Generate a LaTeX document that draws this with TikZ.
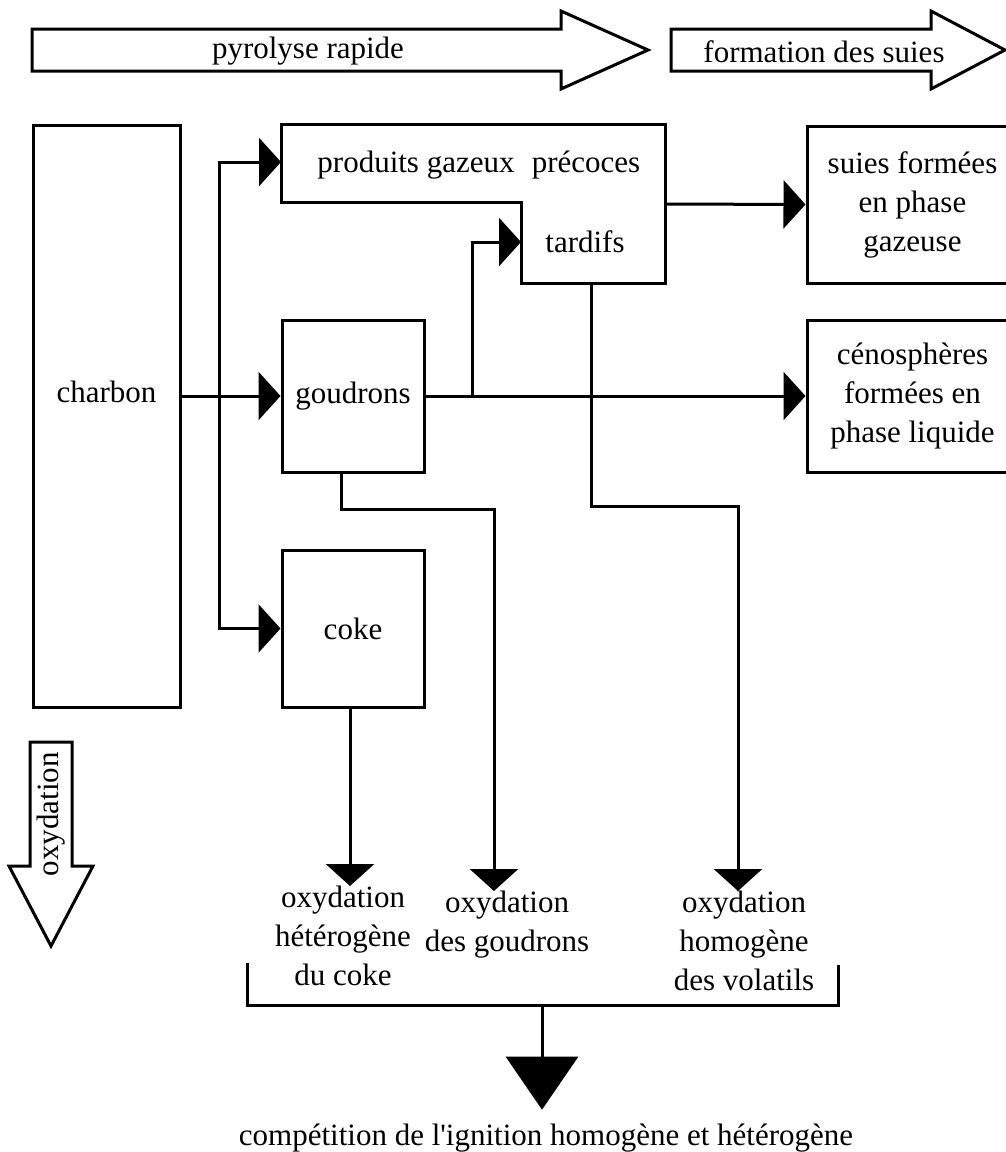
\documentclass[tikz,border=0pt]{standalone}
\usepackage{fontspec}
\setmainfont{Liberation Serif}
\usepackage{tikz}
\usetikzlibrary{arrows.meta}

\begin{document}
\begin{tikzpicture}[
            x=1pt, y=-1pt, % one unit per pixel, y pointing down
            every node/.style={font=\fontsize{31}{39}\selectfont, inner sep=0pt}, % Times-like text
            box/.style={draw, line width=3pt, inner sep=0pt}, % Plain rectangles
            lbl/.style={align=center, anchor=north}, % Labels under the arrows
            flow/.style={line width=3pt, -{Triangle[length=22pt, width=48pt]}}, % Black filled heads
            bigflow/.style={line width=3pt, -{Triangle[length=53pt, width=72pt]}}, % Final head
            hollow/.style={draw, line width=3pt, line join=miter} % Outline arrows
            ]
        \useasboundingbox (0,0) rectangle (1006,1152);

        % Outline arrows: phases of the process
        \draw[hollow] (32,29) -- (561,29) -- (561,11) -- (648,50) -- (561,89) -- (561,71) -- (32,71) -- cycle;
        \node (pyro) at (308,51) {pyrolyse rapide};
        \draw[hollow] (671,29) -- (931,29) -- (931,11) -- (1005,50) -- (931,89) -- (931,71) -- (671,71) -- cycle;
        \node (suiesform) at (824,52) {formation des suies};
        \draw[hollow] (30,742) -- (72,742) -- (72,866) -- (93,866) -- (51,946) -- (9,866) -- (30,866) -- cycle;
        \node[rotate=90] (oxy) at (51,814) {oxydation};

        % Boxes
        \node[box, minimum width=147pt, minimum height=582pt, label={[yshift=24pt]center:charbon}] (charbon) at (106.5,416) {};
        \node[box, minimum width=142pt, minimum height=152pt] (goudrons) at (353,396) {goudrons};
        \node[box, minimum width=142pt, minimum height=157pt] (coke) at (353,628.5) {coke};
        \node[box, minimum width=211pt, minimum height=157pt, align=center] (suies) at (912.5,204.5) {suies formées\\en phase\\gazeuse};
        \node[box, minimum width=211pt, minimum height=152pt, align=center] (ceno) at (912.5,396) {cénosphères\\formées en\\phase liquide};

        % Gaseous products: stepped box
        \draw[line width=3pt] (281,124) -- (665,124) -- (665,283) -- (521,283) -- (521,202) -- (281,202) -- cycle;
        \node (gaz) at (416,165) {produits gazeux};
        \node (precoces) at (586,165) {précoces};
        \node (tardifs) at (585,242) {tardifs};
        \coordinate (gazW) at (281,162);
        \coordinate (gazE) at (665,204);
        \coordinate (tardW) at (521,242);
        \coordinate (tardS) at (591,283);

        % Pyrolysis links
        \coordinate (fork) at (219,396);
        \coordinate (fork2) at (472,396);
        \draw[flow] (charbon.east |- goudrons.west) -- (goudrons.west);
        \draw[flow] (fork) |- (gazW);
        \draw[flow] (fork) |- (coke.west);
        \draw[flow] (goudrons.east) -- (ceno.west);
        \draw[flow] (fork2) |- (tardW);
        \draw[flow] (gazE) -- (suies.west);

        % Oxidation
        \node[lbl] (oxcoke) at (343,886) {oxydation\\hétérogène\\du coke};
        \node[lbl] (oxgoud) at (507,891) {oxydation\\des goudrons};
        \node[lbl] (oxvol) at (744,891) {oxydation\\homogène\\des volatils};
        \draw[flow] ([xshift=-3pt]coke.south) -- ([xshift=-3pt]coke.south |- oxcoke.north);
        \draw[flow] ([xshift=-12pt]goudrons.south) -- ++(0,36) -| ([xshift=-13pt]oxgoud.north);
        \draw[flow] (tardS) -- ++(0,223) -| ([xshift=-6pt]oxvol.north);

        % Bracket and result
        \coordinate (brL) at (247,963);
        \coordinate (brR) at (838,965);
        \coordinate (brM) at (542,1005);
        \draw[line width=3pt] (brL) |- (brM) -| (brR);
        \node[inner ysep=14pt] (ignition) at (546,1138) {compétition de l\textquotesingle ignition homogène et hétérogène};
        \draw[bigflow] (brM) -- (brM |- ignition.north);

\end{tikzpicture}
\end{document}
